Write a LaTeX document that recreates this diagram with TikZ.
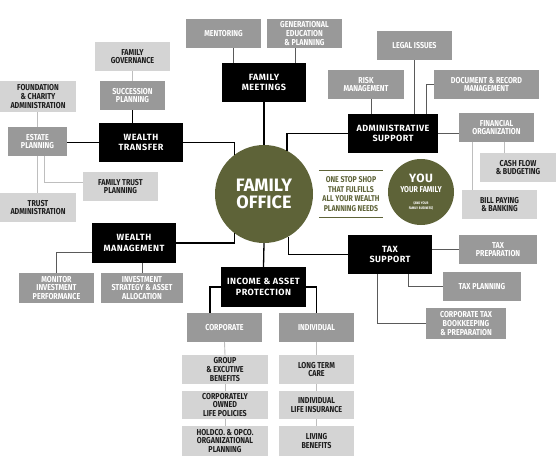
\documentclass[tikz,border=0pt]{standalone}
\usepackage{fontspec}
\setmainfont{Fira Sans}
\newfontfamily\condfont[FakeStretch=0.83]{Fira Sans}
\newfontfamily\headfont[LetterSpace=5]{Fira Sans}

\definecolor{officegreen}{RGB}{94,99,56}
\definecolor{boxmid}{RGB}{153,153,153}
\definecolor{boxlight}{RGB}{212,212,212}
\definecolor{textdark}{RGB}{30,30,30}
\definecolor{linemid}{RGB}{90,90,90}
\definecolor{linelight}{RGB}{190,190,190}

\begin{document}
\begin{tikzpicture}[x=1pt,y=-1pt,
  box/.style={inner sep=1pt, align=center, minimum width=75pt, minimum height=29pt,
    font=\condfont\bfseries\fontsize{8.6}{8.6}\selectfont},
  midbox/.style={box, fill=boxmid, text=white},
  lightbox/.style={box, fill=boxlight, text=textdark},
  headbox/.style={box, fill=black, text=white, minimum width=84pt, minimum height=39pt,
    font=\headfont\bfseries\fontsize{9}{10.5}\selectfont},
  mainline/.style={line width=1.3pt, black},
  subline/.style={line width=1pt, linemid},
  thinline/.style={line width=0.9pt, linelight}]

\useasboundingbox (0,0) rectangle (556,473);

% Centre
\node[circle, fill=officegreen, minimum size=98pt, inner sep=0pt, text=white, align=center,
  font=\bfseries\fontsize{18}{17}\selectfont] (fo) at (264,194) {FAMILY\\OFFICE};

\node[text=officegreen, align=center, minimum width=64pt, minimum height=46pt, inner sep=0pt,
  font=\condfont\bfseries\fontsize{8.4}{9.5}\selectfont] (slogan) at (351,194)
  {ONE STOP SHOP\\THAT FULFILLS\\ALL YOUR WEALTH\\PLANNING NEEDS};
\draw[officegreen, line width=1pt] (slogan.north west) -- (slogan.north east);
\draw[officegreen, line width=1pt] (slogan.south west) -- (slogan.south east);

\node[circle, fill=officegreen, minimum size=66pt, inner sep=0pt, text=white, align=center,
  font=\condfont\bfseries\fontsize{8}{10}\selectfont] (you) at (421,192)
  {{\headfont\fontsize{12}{12}\selectfont YOU}\\
   {\fontsize{8.5}{9}\selectfont YOUR FAMILY}\\[2pt]
   {\fontsize{3.6}{4}\selectfont (AND YOUR}\\[-5pt]
   {\fontsize{3.6}{4}\selectfont FAMILY BUSINESS)}};

% Main headings
\node[headbox] (meet) at (264,82.5) {FAMILY\\MEETINGS};
\node[headbox] (wtrans) at (141,142.5) {WEALTH\\TRANSFER};
\node[headbox, minimum width=90pt] (admin) at (393,133.5) {ADMINISTRATIVE\\SUPPORT};
\node[headbox] (tax) at (390,254.5) {TAX\\SUPPORT};
\node[headbox, minimum height=40pt] (wm) at (134,243) {WEALTH\\MANAGEMENT};
\node[headbox, minimum width=85pt, minimum height=40pt] (inc) at (263.5,287) {INCOME \& ASSET\\PROTECTION};

% Family meetings
\node[midbox] (mentor) at (223.5,33.5) {MENTORING};
\node[midbox] (gened) at (304.5,33.5) {GENERATIONAL\\EDUCATION\\\& PLANNING};

% Wealth transfer
\node[lightbox] (famgov) at (132.5,56.5) {FAMILY\\GOVERNANCE};
\node[midbox, minimum width=65pt] (succ) at (132.5,95.5) {SUCCESSION\\PLANNING};
\node[lightbox, minimum width=76pt, minimum height=31pt] (found) at (38,96.5) {FOUNDATION\\\& CHARITY\\ADMINISTRATION};
\node[midbox, minimum width=59pt] (estate) at (37.5,141.5) {ESTATE\\PLANNING};
\node[lightbox] (famtrust) at (120.5,186.5) {FAMILY TRUST\\PLANNING};
\node[lightbox, minimum width=76pt] (trustadm) at (38,207.5) {TRUST\\ADMINISTRATION};

% Administrative support
\node[midbox] (legal) at (414.5,45.5) {LEGAL ISSUES};
\node[midbox, minimum width=76pt] (risk) at (366,84.5) {RISK\\MANAGEMENT};
\node[midbox, minimum width=105pt] (docrec) at (486.5,84.5) {DOCUMENT \& RECORD\\MANAGEMENT};
\node[midbox] (finorg) at (496.5,127.5) {FINANCIAL\\ORGANIZATION};
\node[lightbox, minimum width=76pt] (cash) at (518,167.5) {CASH FLOW\\\& BUDGETING};
\node[lightbox] (bill) at (499.5,204.5) {BILL PAYING\\\& BANKING};

% Tax support
\node[midbox, minimum width=78pt] (taxprep) at (498,249.5) {TAX\\PREPARATION};
\node[midbox, minimum width=78pt] (taxplan) at (482,286.5) {TAX PLANNING};
\node[midbox, minimum width=80pt, minimum height=31pt] (corptax) at (466,323.5) {CORPORATE TAX\\BOOKKEEPING\\\& PREPARATION};

% Wealth management
\node[midbox, minimum height=30pt] (monitor) at (56.5,288) {MONITOR\\INVESTMENT\\PERFORMANCE};
\node[midbox, minimum width=82pt, minimum height=30pt] (invstrat) at (142,288) {INVESTMENT\\STRATEGY \& ASSET\\ALLOCATION};

% Income & asset protection
\node[midbox] (corp) at (224.5,327.5) {CORPORATE};
\node[midbox] (indiv) at (316.5,327.5) {INDIVIDUAL};
\node[lightbox, minimum width=86pt] (group) at (225,369.5) {GROUP\\\& EXCUTIVE\\BENEFITS};
\node[lightbox, minimum width=86pt, minimum height=28pt] (corpown) at (225,405) {CORPORATELY\\OWNED\\LIFE POLICIES};
\node[lightbox, minimum width=86pt, minimum height=30pt] (holdco) at (225,441) {HOLDCO. \& OPCO.\\ORGANIZATIONAL\\PLANNING};
\node[lightbox] (ltc) at (316.5,369.5) {LONG TERM\\CARE};
\node[lightbox, minimum height=28pt] (indlife) at (316.5,405) {INDIVIDUAL\\LIFE INSURANCE};
\node[lightbox, minimum height=30pt] (living) at (316.5,441) {LIVING\\BENEFITS};

% Main connectors
\draw[mainline] (fo.north) -- (meet.south);
\draw[mainline] (wtrans.east) -| (fo.127);
\draw[mainline] (admin.west) -| (fo.62);
\draw[mainline] (tax.west) -| (fo.-60);
\draw[mainline] (wm.east) -| (fo.-127);
\draw[mainline] (fo.south) -- (inc.north);
\draw[mainline] (estate.east |- wtrans.west) -- (wtrans.west);
\draw[mainline] (succ.south) -- (succ.south |- wtrans.north);
\draw[mainline] (inc.west) -| ([xshift=-14.5pt]corp.north);
\draw[mainline] (inc.east) -| (indiv.north);

% Secondary connectors
\draw[subline] ([xshift=9.5pt]mentor.south) -- ([xshift=9.5pt]mentor.south |- meet.north);
\draw[subline] ([xshift=-9.5pt]gened.south) -- ([xshift=-9.5pt]gened.south |- meet.north);
\draw[subline] ([xshift=5pt]risk.south) -- ([xshift=5pt]risk.south |- admin.north);
\draw[subline] (legal.south) -- (legal.south |- admin.north);
\draw[subline] (docrec.west) -| ([xshift=33pt]admin.north);
\draw[subline] (admin.east) -- (admin.east -| finorg.west);
\draw[subline] (taxprep.west) -- (taxprep.west -| tax.east);
\draw[subline] (taxplan.west) -| ([xshift=18pt]tax.south);
\draw[subline] (corptax.west) -| ([xshift=-13pt]tax.south);
\draw[subline] ([yshift=-9pt]wm.west) -| (monitor.north);
\draw[subline] (invstrat.north) -- (invstrat.north |- wm.south);

% Light connectors
\draw[thinline] (famgov.south) -- (succ.north);
\draw[thinline] (estate.north) -- (estate.north |- found.south);
\draw[thinline] (estate.south) -- (estate.south |- trustadm.north);
\draw[thinline] ([yshift=4.5pt]famtrust.west) -| ([xshift=6.5pt]estate.south);
\draw[thinline] ([xshift=-14pt]cash.north) -- ([xshift=-14pt]cash.north |- finorg.south);
\draw[thinline] ([xshift=-27.5pt]bill.north) -- ([xshift=-27.5pt]bill.north |- finorg.south);
\draw[thinline] (corp.south) -- (group.north);
\draw[thinline] (group.south) -- (corpown.north);
\draw[thinline] (corpown.south) -- (holdco.north);
\draw[thinline] (indiv.south) -- (ltc.north);
\draw[thinline] (ltc.south) -- (indlife.north);
\draw[thinline] (indlife.south) -- (living.north);

\end{tikzpicture}
\end{document}
